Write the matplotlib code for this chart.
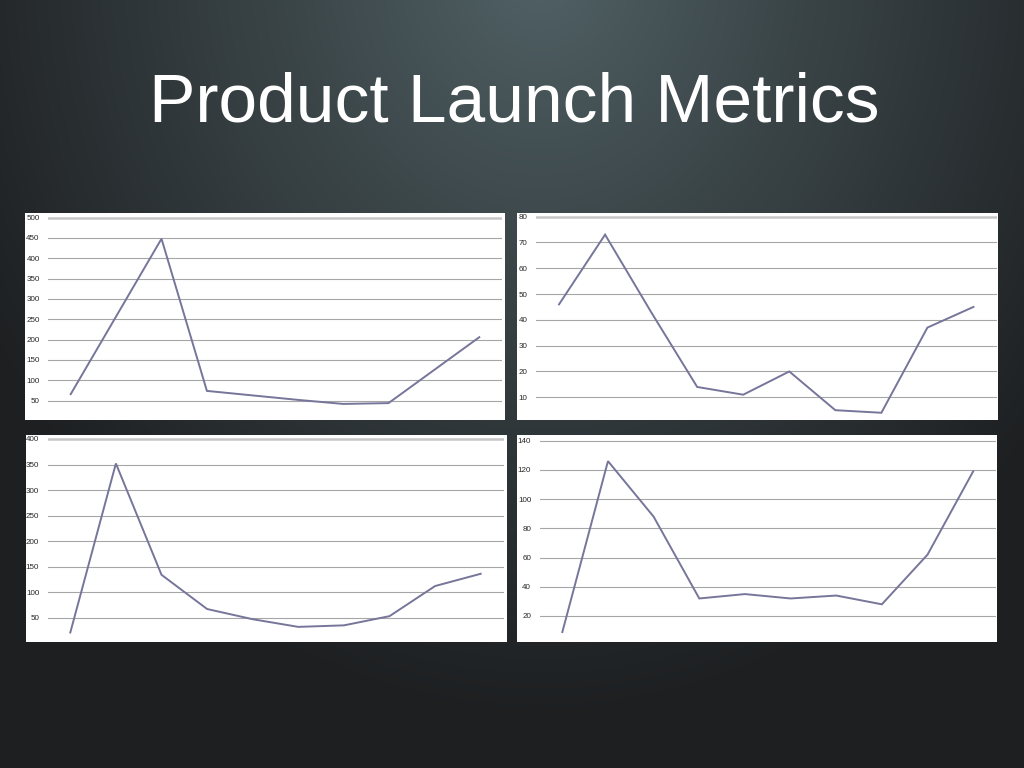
import numpy as np
import matplotlib
matplotlib.use("Agg")
import matplotlib.pyplot as plt
from matplotlib.patches import Rectangle

# Ten launch periods, no labels on the category axis
periods = list(range(10))

# Values
panel_tl = [66, 257, 448, 74, 63, 52, 42, 44, 125, 206]
panel_tr = [46, 73, 43, 14, 11, 20, 5, 4, 37, 45]
panel_bl = [21, 352, 134, 67, 47, 32, 35, 53, 112, 136]
panel_br = [9, 126, 88, 32, 35, 32, 34, 28, 62, 119]

ticks_tl = list(range(50, 501, 50))
ticks_tr = list(range(10, 81, 10))
ticks_bl = list(range(50, 401, 50))
ticks_br = list(range(20, 141, 20))

TITLE = "Product Launch Metrics"

W, H = 1024, 768
LINE_COLOR = "#76759a"
GRID_COLOR = "#a6a6a6"

# panel layout in pixels: white box (x0, x1, y0, y1), plot x-range, y-limits
PANELS = [
    dict(data=panel_tl, ticks=ticks_tl, box=(25, 505, 212.7, 420), plot=(48, 502), ylim=(2.5, 512), top_thick=True),
    dict(data=panel_tr, ticks=ticks_tr, box=(517, 998, 212.7, 420), plot=(536, 996.5), ylim=(1.2, 81.5), top_thick=True),
    dict(data=panel_bl, ticks=ticks_bl, box=(26, 507, 435, 642), plot=(47.5, 503.5), ylim=(2.4, 407.8), top_thick=True),
    dict(data=panel_br, ticks=ticks_br, box=(517, 997, 435, 642), plot=(539.5, 996), ylim=(2.2, 143.9), top_thick=False),
]


def fx(px):
    return px / W


def fy(py):
    return 1 - py / H


def background(fig):
    """Dark slide background with a soft teal glow at the top centre."""
    ax = fig.add_axes([0, 0, 1, 1], zorder=-2)
    yy, xx = np.mgrid[0:H, 0:W]
    r = np.sqrt(((xx - 540) / 640.0) ** 2 + ((yy + 40) / 760.0) ** 2)
    t = np.clip(r, 0, 1) ** 0.9
    c0 = np.array([0x52, 0x63, 0x67]) / 255.0
    c1 = np.array([0x1d, 0x1f, 0x21]) / 255.0
    img = c0[None, None, :] * (1 - t[..., None]) + c1[None, None, :] * t[..., None]
    ax.imshow(img, aspect="auto", extent=(0, W, H, 0))
    ax.set_axis_off()


def draw_panel(fig, p):
    bx0, bx1, by0, by1 = p["box"]
    fig.add_artist(Rectangle((fx(bx0), fy(by1)), fx(bx1 - bx0), (by1 - by0) / H,
                             transform=fig.transFigure, facecolor="white",
                             edgecolor="none", zorder=-1))
    px0, px1 = p["plot"]
    ax = fig.add_axes([fx(px0), fy(by1), fx(px1 - px0), (by1 - by0) / H])
    ax.set_facecolor("none")
    for s in ax.spines.values():
        s.set_visible(False)

    ax.set_xlim(-0.5, len(periods) - 0.5)
    ax.set_ylim(*p["ylim"])
    ax.set_xticks([])
    ax.set_yticks(p["ticks"])
    ax.tick_params(axis="y", length=0, pad=6, labelsize=5.8, labelcolor="#262626")
    for lab in ax.get_yticklabels():
        lab.set_fontfamily("Liberation Sans")

    for i, t in enumerate(p["ticks"]):
        top = i == len(p["ticks"]) - 1
        if top and p["top_thick"]:
            ax.axhline(t, color="#c6c6c6", lw=1.8, zorder=1)
        else:
            ax.axhline(t, color=GRID_COLOR, lw=0.8, zorder=1)

    ax.plot(periods, p["data"], color=LINE_COLOR, lw=1.4, zorder=3,
            solid_joinstyle="miter")


def main():
    fig = plt.figure(figsize=(W / 100, H / 100), dpi=100)
    background(fig)

    fig.text(fx(514), fy(121), TITLE, ha="center", va="baseline",
             color="white", fontsize=50, family="Liberation Sans")

    for p in PANELS:
        draw_panel(fig, p)

    fig.savefig("out.png", dpi=100)


if __name__ == "__main__":
    main()
